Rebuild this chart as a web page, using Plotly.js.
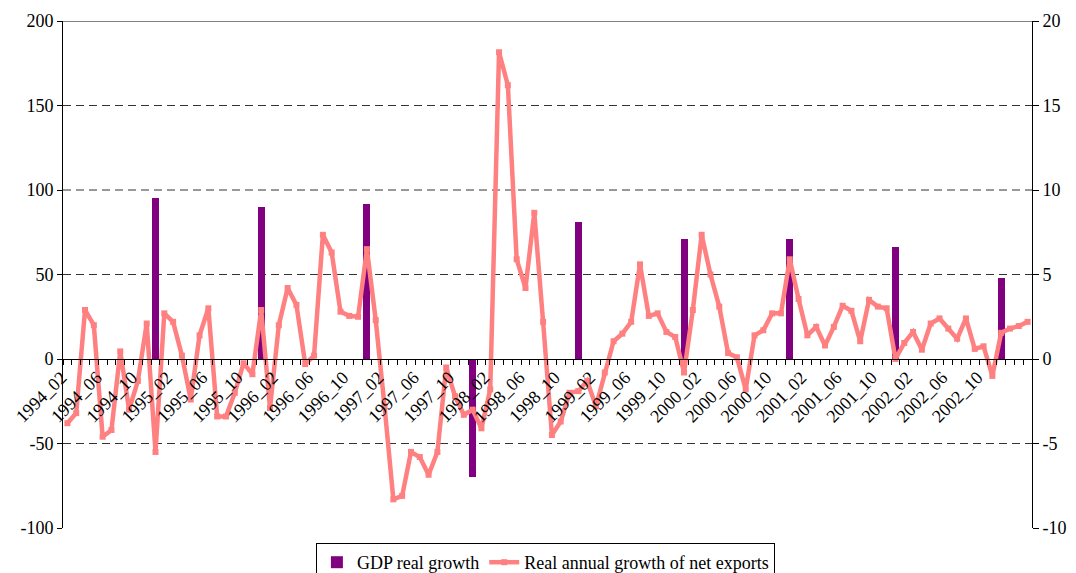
<!DOCTYPE html>
<html>
<head>
<meta charset="utf-8">
<script src="https://cdn.plot.ly/plotly-3.0.1.min.js"></script>
<style>html,body{margin:0;padding:0;background:#fff;overflow:hidden;}#chart{width:1076px;height:600px;}</style>
</head>
<body>
<div id="chart"></div>
<script>
// Monthly categories
const months = [
'1994_02','1994_03','1994_04','1994_05','1994_06','1994_07','1994_08','1994_09','1994_10','1994_11','1994_12',
'1995_01','1995_02','1995_03','1995_04','1995_05','1995_06','1995_07','1995_08','1995_09','1995_10','1995_11','1995_12',
'1996_01','1996_02','1996_03','1996_04','1996_05','1996_06','1996_07','1996_08','1996_09','1996_10','1996_11','1996_12',
'1997_01','1997_02','1997_03','1997_04','1997_05','1997_06','1997_07','1997_08','1997_09','1997_10','1997_11','1997_12',
'1998_01','1998_02','1998_03','1998_04','1998_05','1998_06','1998_07','1998_08','1998_09','1998_10','1998_11','1998_12',
'1999_01','1999_02','1999_03','1999_04','1999_05','1999_06','1999_07','1999_08','1999_09','1999_10','1999_11','1999_12',
'2000_01','2000_02','2000_03','2000_04','2000_05','2000_06','2000_07','2000_08','2000_09','2000_10','2000_11','2000_12',
'2001_01','2001_02','2001_03','2001_04','2001_05','2001_06','2001_07','2001_08','2001_09','2001_10','2001_11','2001_12',
'2002_01','2002_02','2002_03','2002_04','2002_05','2002_06','2002_07','2002_08','2002_09','2002_10','2002_11','2002_12',
'2003_01','2003_02','2003_03'
];

// Real annual growth of net exports (left axis)
const netExports = [
-38,-32,29,20,-46,-42,4.5,-30,-13,21,-55,
27,22,2,-24,14,30,-34,-34,-20,-2.5,-9,29,
-29,20,42,32,-3,2,73.5,63,28,25.5,25,65,
23,-28,-83,-81,-55,-58,-68.5,-55,-5,-22,-33,-30,
-41,-18,181.5,162,59,42,86.5,22,-45,-37,-20,-19,
-13,-28,-8,10.5,15,22,56,25.5,27,16,13,-8,
29,73.5,50,31,3.5,1,-18,14,17,27,27,59,
35.5,14,19,8,19,31.5,28.5,10.5,35,31,30,0,
9.5,16,5.5,21,24,18,12,24,6,7.5,-10,15.5,
18,19.5,22
];

// GDP real growth (right axis), annual, shown at December
const gdpMonths = ['1994_12','1995_12','1996_12','1997_12','1998_12','1999_12','2000_12','2001_12','2002_12'];
const gdpGrowth = [9.5, 9.0, 9.2, -7.0, 8.1, 7.1, 7.1, 6.6, 4.8];

// Axis ticks
const xTickLabels = ['1994_02','1994_06','1994_10','1995_02','1995_06','1995_10','1996_02','1996_06','1996_10',
'1997_02','1997_06','1997_10','1998_02','1998_06','1998_10','1999_02','1999_06','1999_10','2000_02','2000_06','2000_10',
'2001_02','2001_06','2001_10','2002_02','2002_06','2002_10'];
const leftTicks = [-100,-50,0,50,100,150,200];
const rightTicks = [-10,-5,0,5,10,15,20];
const dashedGrid = [-50,50,100,150];
const topLine = [200];

const FONT = 'Liberation Serif';

const traces = [
  {
    type: 'bar', name: 'GDP real growth',
    x: gdpMonths, y: gdpGrowth, yaxis: 'y', xaxis: 'x',
    width: 0.8,
    marker: {color: '#800080', line: {width: 0}},
    hoverinfo: 'skip'
  },
  {
    type: 'scatter', mode: 'lines+markers', name: 'Real annual growth of net exports',
    x: months, y: netExports, yaxis: 'y2', xaxis: 'x',
    line: {color: '#FF8080', width: 4.5},
    marker: {color: '#FF8080', symbol: 'square', size: 6},
    hoverinfo: 'skip'
  }
];

const shapes = [];
dashedGrid.forEach(v => shapes.push({type:'line', xref:'paper', x0:0, x1:1, yref:'y2', y0:v, y1:v,
  line:{color:'#333', width:1, dash:'8px,5px'}, layer:'below'}));
topLine.forEach(v => shapes.push({type:'line', xref:'paper', x0:0, x1:1, yref:'y2', y0:v, y1:v,
  line:{color:'#000', width:1}, layer:'below'}));

const layout = {
  width: 1076, height: 600,
  margin: {l: 63, r: 44, t: 21, b: 72, pad: 0},
  paper_bgcolor: '#fff', plot_bgcolor: '#fff',
  font: {family: FONT, size: 18, color: '#000'},
  showlegend: true,
  bargap: 0,
  xaxis: {
    type: 'category', range: [-0.5, months.length - 0.5],
    categoryorder: 'array', categoryarray: months,
    anchor: 'free', position: 1/3,
    showline: true, linecolor: '#000', linewidth: 1,
    ticks: 'outside', ticklen: 5, tickcolor: '#000', tickwidth: 1,
    tickson: 'boundaries',
    tickmode: 'array', tickvals: months,
    ticktext: months.map(m => xTickLabels.includes(m) ? m : ''),
    tickangle: -45, ticklabelshift: -6,
    tickfont: {family: FONT, size: 18, color: '#000'},
    showgrid: false, zeroline: false, automargin: false, fixedrange: true
  },
  yaxis: {
    side: 'right', range: [-10, 20],
    tickmode: 'array', tickvals: rightTicks, ticktext: rightTicks.map(String),
    showline: true, linecolor: '#000', linewidth: 1,
    ticks: 'outside', ticklen: 6, tickcolor: '#000',
    showgrid: false, zeroline: false, automargin: false,
    tickfont: {family: FONT, size: 18, color: '#000'}
  },
  yaxis2: {
    overlaying: 'y', side: 'left', range: [-100, 200],
    tickmode: 'array', tickvals: leftTicks, ticktext: leftTicks.map(String),
    showline: true, linecolor: '#000', linewidth: 1,
    ticks: 'outside', ticklen: 5, tickcolor: '#000',
    showgrid: false, zeroline: false, automargin: false,
    tickfont: {family: FONT, size: 18, color: '#000'}
  },
  legend: {
    orientation: 'h', x: 0.261, xanchor: 'left', y: -0.0296, yanchor: 'top',
    bordercolor: '#000', borderwidth: 1, bgcolor: '#fff',
    font: {family: FONT, size: 18, color: '#000'},
    itemwidth: 30, tracegroupgap: 0
  },
  shapes: shapes
};

Plotly.newPlot('chart', traces, layout, {displayModeBar: false, staticPlot: true});
</script>
</body>
</html>
